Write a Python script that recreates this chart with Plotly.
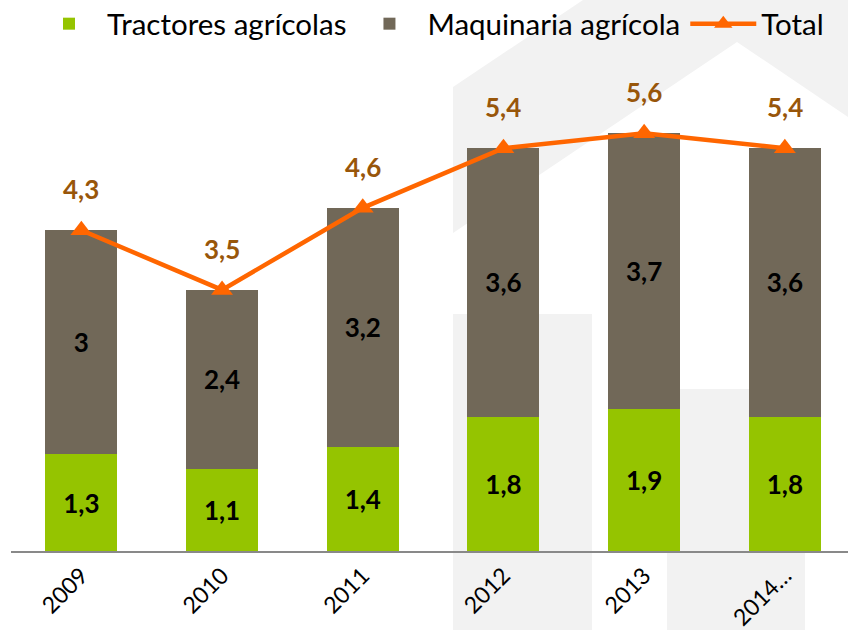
import plotly.graph_objects as go

# ---- data ----
years = ["2009", "2010", "2011", "2012", "2013", "2014…"]
tractores = [1.3, 1.1, 1.4, 1.8, 1.9, 1.8]
maquinaria = [3.0, 2.4, 3.2, 3.6, 3.7, 3.6]
total = [4.3, 3.5, 4.6, 5.4, 5.6, 5.4]


def fmt(v):
    return f"{v:g}".replace(".", ",")


W, H = 848, 630
ML, MR, MT, MB = 11, 0, 60, 79
PW = W - ML - MR
PH = H - MT - MB

GREEN = "#95C400"
BROWN = "#716858"
ORANGE = "#FF6600"
LABEL = "#98560A"
FONT = "Lato"


def px(x):  # page pixel -> paper x
    return (x - ML) / PW


def py(y):  # page pixel -> paper y
    return (H - MB - y) / PH


fig = go.Figure()

fig.add_trace(go.Bar(
    x=years, y=tractores, name="Tractores agrícolas",
    marker=dict(color=GREEN, line=dict(width=0)),
    text=[fmt(v) for v in tractores], textposition="inside",
    insidetextanchor="middle", textangle=0,
    textfont=dict(family=FONT, size=26, color="#000000", weight="bold"),
))
fig.add_trace(go.Bar(
    x=years, y=maquinaria, name="Maquinaria agrícola",
    marker=dict(color=BROWN, line=dict(width=0)),
    text=[fmt(v) for v in maquinaria], textposition="inside",
    insidetextanchor="middle", textangle=0,
    textfont=dict(family=FONT, size=26, color="#000000", weight="bold"),
))
fig.add_trace(go.Scatter(
    x=years, y=total, name="Total", mode="lines+markers",
    line=dict(color=ORANGE, width=4.5),
    marker=dict(symbol="triangle-up", size=19, color=ORANGE),
))

for i, yv in enumerate(total):
    fig.add_annotation(
        x=i, y=yv, text=fmt(yv), showarrow=False, yshift=41,
        font=dict(family=FONT, size=26, color=LABEL, weight="bold"),
    )

# faint watermark in the background
wm = "#F2F2F2"
roof = [(453, 87), (583, 0), (860, 0), (860, 125), (737, 42), (453, 233)]
path = "M " + " L ".join(f"{px(a):.4f},{py(b):.4f}" for a, b in roof) + " Z"
fig.add_shape(type="path", path=path, xref="paper", yref="paper",
              fillcolor=wm, line=dict(width=0), layer="below")
for (x0, y0, x1, y1) in [(453, 314, 592, 640), (667, 389, 805, 640)]:
    fig.add_shape(type="rect", xref="paper", yref="paper",
                  x0=px(x0), x1=px(x1), y0=py(y1), y1=py(y0),
                  fillcolor=wm, line=dict(width=0), layer="below")

fig.update_layout(
    width=W, height=H,
    margin=dict(l=ML, r=MR, t=MT, b=MB, pad=0, autoexpand=False),
    barmode="stack", bargap=0.488,
    paper_bgcolor="white", plot_bgcolor="rgba(0,0,0,0)",
    showlegend=True,
    legend=dict(
        orientation="h", x=px(31), xanchor="left", y=py(24), yanchor="middle",
        font=dict(family=FONT, size=29.5, color="#000000"),
        traceorder="normal", bgcolor="rgba(0,0,0,0)", itemwidth=66,
    ),
    xaxis=dict(
        type="category", range=[-0.5, (PW / 140.7) - 0.5],
        tickangle=-45, tickfont=dict(family=FONT, size=23, color="#000000"),
        showline=True, linecolor="#898989", linewidth=2, automargin=False,
        showgrid=False, ticks="", zeroline=False, fixedrange=True,
    ),
    yaxis=dict(
        range=[0, PH / 74.6], visible=False, showgrid=False, zeroline=False,
    ),
    font=dict(family=FONT),
)

fig.write_html(
    "out.html",
    config={"displayModeBar": False},
    post_script="document.body.style.margin='0';document.body.style.overflow='hidden';",
)
